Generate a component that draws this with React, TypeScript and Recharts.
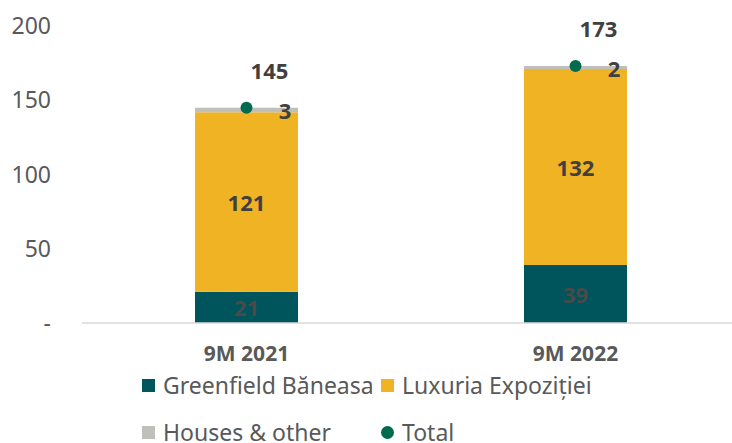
import React from "react";
import {
  Bar,
  ComposedChart,
  LabelList,
  Line,
  XAxis,
  YAxis,
} from "recharts";

// date
const periods = ["9M 2021", "9M 2022"];
const greenfield = [21, 39];
const luxuria = [121, 132];
const houses = [3, 2];
const totals = [145, 173];
const yTicks = [0, 50, 100, 150, 200];

const COLORS = {
  greenfield: "#00545C",
  luxuria: "#F0B323",
  houses: "#C0C0BB",
  total: "#006B4F",
};

const FONT = "'Noto Sans', 'Open Sans', sans-serif";

const data = periods.map((p, i) => ({
  period: p,
  greenfield: greenfield[i],
  luxuria: luxuria[i],
  houses: houses[i],
  total: totals[i],
}));

const legendRows = [
  [
    { name: "Greenfield Băneasa", color: COLORS.greenfield, shape: "square" },
    { name: "Luxuria Expoziției", color: COLORS.luxuria, shape: "square" },
  ],
  [
    { name: "Houses & other", color: COLORS.houses, shape: "square" },
    { name: "Total", color: COLORS.total, shape: "circle" },
  ],
];

const LABEL_SIZE = 22;

const centerLabel = (fill: string) => (props: any) => {
  const { x, y, width, height, value } = props;
  return (
    <text
      x={x + width / 2}
      y={y + height / 2}
      textAnchor="middle"
      dominantBaseline="central"
      fill={fill}
      fontSize={LABEL_SIZE}
      fontWeight="bold"
      fontFamily={FONT}
    >
      {value}
    </text>
  );
};

const housesLabel = (props: any) => {
  const { x, y, width, height, value } = props;
  return (
    <text
      x={x + width - 13}
      y={y + height / 2}
      textAnchor="middle"
      dominantBaseline="central"
      fill="#404040"
      fontSize={LABEL_SIZE}
      fontWeight="bold"
      fontFamily={FONT}
    >
      {value}
    </text>
  );
};

const totalLabel = (props: any) => {
  const { x, y, value } = props;
  return (
    <text
      x={x + 23}
      y={y - 38}
      textAnchor="middle"
      dominantBaseline="central"
      fill="#404040"
      fontSize={LABEL_SIZE}
      fontWeight="bold"
      fontFamily={FONT}
    >
      {value}
    </text>
  );
};

const App: React.FC = () => {
  return (
    <div
      style={{
        position: "absolute",
        left: 0,
        top: 0,
        width: 732,
        height: 443,
        overflow: "hidden",
        background: "#fff",
        fontFamily: FONT,
      }}
    >
      <ComposedChart
        width={750}
        height={380}
        data={data}
        margin={{ top: 26, right: 10, bottom: 17, left: 22 }}
        barSize={103}
      >
        <XAxis
          dataKey="period"
          axisLine={{ stroke: "#D9D9D9", strokeWidth: 1.5 }}
          tickLine={false}
          tickSize={6}
          tickMargin={17}
          height={40}
          tick={{
            fill: "#595959",
            fontSize: 21,
            fontWeight: "bold",
            fontFamily: FONT,
          }}
        />
        <YAxis
          domain={[0, 200]}
          ticks={yTicks}
          width={60}
          axisLine={false}
          tickLine={false}
          tickSize={6}
          tickMargin={25}
          tickFormatter={(v: number) => (v === 0 ? "-" : String(v))}
          tick={{ fill: "#595959", fontSize: 23, fontFamily: FONT }}
        />
        <Bar
          dataKey="greenfield"
          stackId="a"
          fill={COLORS.greenfield}
          isAnimationActive={false}
        >
          <LabelList dataKey="greenfield" content={centerLabel("#4A4A4A")} />
        </Bar>
        <Bar
          dataKey="luxuria"
          stackId="a"
          fill={COLORS.luxuria}
          isAnimationActive={false}
        >
          <LabelList dataKey="luxuria" content={centerLabel("#404040")} />
        </Bar>
        <Bar
          dataKey="houses"
          stackId="a"
          fill={COLORS.houses}
          isAnimationActive={false}
        >
          <LabelList dataKey="houses" content={housesLabel} />
        </Bar>
        <Line
          dataKey="total"
          stroke="none"
          dot={{ r: 6, fill: COLORS.total, stroke: COLORS.total, strokeWidth: 0 }}
          activeDot={false}
          isAnimationActive={false}
        >
          <LabelList dataKey="total" content={totalLabel} />
        </Line>
      </ComposedChart>
      {/* legenda pe doua randuri */}
      {legendRows.map((row, ri) => (
        <div
          key={ri}
          style={{
            position: "absolute",
            left: 142,
            top: 373 + ri * 47,
            display: "flex",
            alignItems: "center",
            height: 24,
            lineHeight: "24px",
            fontSize: 23,
            color: "#595959",
            whiteSpace: "nowrap",
          }}
        >
          {row.map((item, ii) => (
            <div
              key={item.name}
              style={{
                display: "flex",
                alignItems: "center",
                width: ii === 0 ? 239 : undefined,
              }}
            >
              <span
                style={{
                  display: "inline-block",
                  width: 13,
                  height: 13,
                  background: item.color,
                  borderRadius: item.shape === "circle" ? "50%" : 0,
                  marginRight: 8,
                }}
              />
              <span>{item.name}</span>
            </div>
          ))}
        </div>
      ))}
    </div>
  );
};

export default App;
